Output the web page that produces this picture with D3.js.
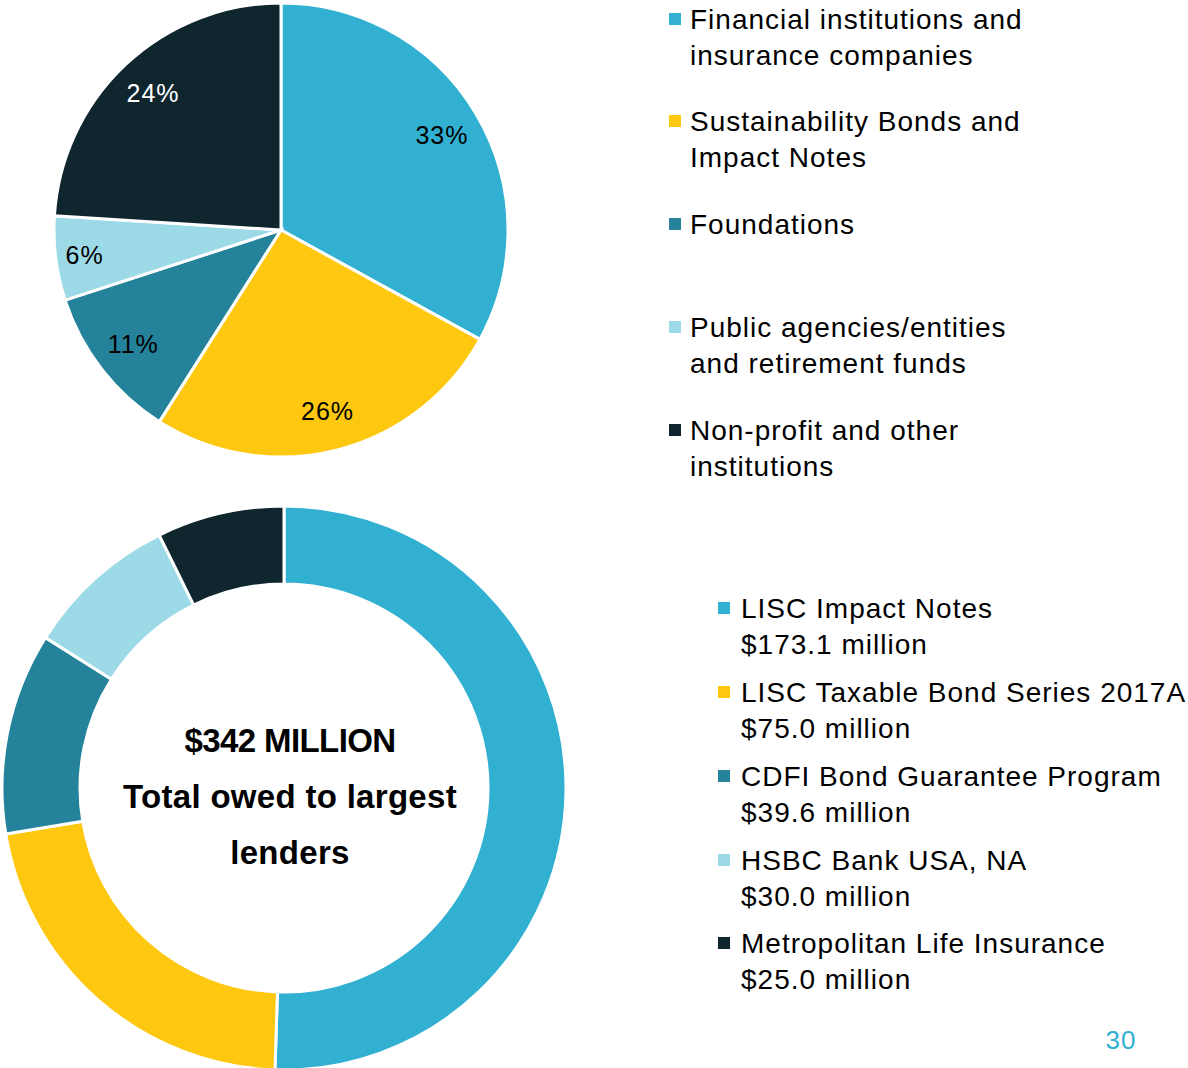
<!DOCTYPE html>
<html>
<head>
<meta charset="utf-8">
<script src="https://cdn.jsdelivr.net/npm/d3@7"></script>
<style>
  body { margin: 0; background: #fff; }
  svg text { font-family: "Liberation Sans", Arial, sans-serif; }
</style>
</head>
<body>
<div id="chart"></div>
<script>
// top pie: funding source shares (%)
const sourceLabels = [
    ["Financial institutions and", "insurance companies"],
    ["Sustainability Bonds and", "Impact Notes"],
    ["Foundations"],
    ["Public agencies/entities", "and retirement funds"],
    ["Non-profit and other", "institutions"]
];
const sourceShares = [33, 26, 11, 6, 24];

// bottom donut: largest lenders ($ million)
const lenderNames = ["LISC Impact Notes", "LISC Taxable Bond Series 2017A", "CDFI Bond Guarantee Program",
    "HSBC Bank USA, NA", "Metropolitan Life Insurance"];
const lenderAmounts = [173.1, 75.0, 39.6, 30.0, 25.0];

const centerLines = ["$342 MILLION", "Total owed to largest", "lenders"];
const pageNumber = "30";

const colors = ["#31b0d1", "#fec810", "#24829a", "#9cdae8", "#0f262f"];

const width = 1188, height = 1068;

const svg = d3.select("#chart").append("svg")
    .attr("width", width)
    .attr("height", height);

const color = d3.scaleOrdinal().domain(d3.range(5)).range(colors);

// ---- pie
const pieG = svg.append("g").attr("transform", "translate(281,230)");
const pie = d3.pie().sort(null).value(d => d);
const pieArcs = pie(sourceShares);
const arc = d3.arc().innerRadius(0).outerRadius(227);

pieG.selectAll("path")
    .data(pieArcs)
    .join("path")
    .attr("d", arc)
    .attr("fill", (d, i) => color(i))
    .attr("stroke", "#fff")
    .attr("stroke-width", 3);

pieG.selectAll("text")
    .data(pieArcs)
    .join("text")
    .attr("transform", d => {
        let r = d.data < 8 ? 198 : 187;
        return `translate(${d3.arc().innerRadius(r).outerRadius(r).centroid(d)})`;
    })
    .attr("text-anchor", "middle")
    .attr("dy", "0.35em")
    .attr("font-size", 25)
    .attr("letter-spacing", 1)
    .attr("fill", (d, i) => i === 4 ? "#fff" : "#000")
    .text(d => d.data + "%");

// legend for pie
const leg1 = svg.append("g").attr("transform", "translate(669,0)");
const leg1Y = [19, 121, 224, 327, 430];
sourceLabels.forEach((lines, i) => {
    let g = leg1.append("g").attr("transform", `translate(0,${leg1Y[i]})`);
    g.append("rect").attr("x", 0).attr("y", -6).attr("width", 12).attr("height", 12).attr("fill", colors[i]);
    lines.forEach((t, j) => {
        g.append("text")
            .attr("x", 21)
            .attr("y", j * 36)
            .attr("dy", "0.35em")
            .attr("font-size", 28)
            .attr("letter-spacing", 1)
            .attr("fill", "#000")
            .text(t);
    });
});

// ---- donut
const donutG = svg.append("g").attr("transform", "translate(284,788)");
const donutArcs = pie(lenderAmounts);
const ring = d3.arc().innerRadius(204).outerRadius(282);

donutG.selectAll("path")
    .data(donutArcs)
    .join("path")
    .attr("d", ring)
    .attr("fill", (d, i) => color(i))
    .attr("stroke", "#fff")
    .attr("stroke-width", 3);

donutG.selectAll("text")
    .data(centerLines)
    .join("text")
    .attr("x", 6)
    .attr("y", (d, i) => -48 + i * 56)
    .attr("dy", "0.35em")
    .attr("text-anchor", "middle")
    .attr("font-weight", "bold")
    .attr("font-size", 33)
    .attr("letter-spacing", (d, i) => i === 0 ? -0.6 : 0.3)
    .attr("fill", "#000")
    .text(d => d);

// legend for donut
const leg2 = svg.append("g").attr("transform", "translate(718,0)");
const leg2Y = [608, 692, 776, 860, 943];
lenderNames.forEach((name, i) => {
    let g = leg2.append("g").attr("transform", `translate(0,${leg2Y[i]})`);
    g.append("rect").attr("x", 0).attr("y", -6).attr("width", 12).attr("height", 12).attr("fill", colors[i]);
    [name, "$" + lenderAmounts[i].toFixed(1) + " million"].forEach((t, j) => {
        g.append("text")
            .attr("x", 23)
            .attr("y", j * 36)
            .attr("dy", "0.35em")
            .attr("font-size", 28)
            .attr("letter-spacing", 1)
            .attr("fill", "#000")
            .text(t);
    });
});

svg.append("text")
    .attr("x", 1121)
    .attr("y", 1040)
    .attr("dy", "0.35em")
    .attr("text-anchor", "middle")
    .attr("font-size", 26)
    .attr("letter-spacing", 1)
    .attr("fill", "#31b0d1")
    .text(pageNumber);
</script>
</body>
</html>
